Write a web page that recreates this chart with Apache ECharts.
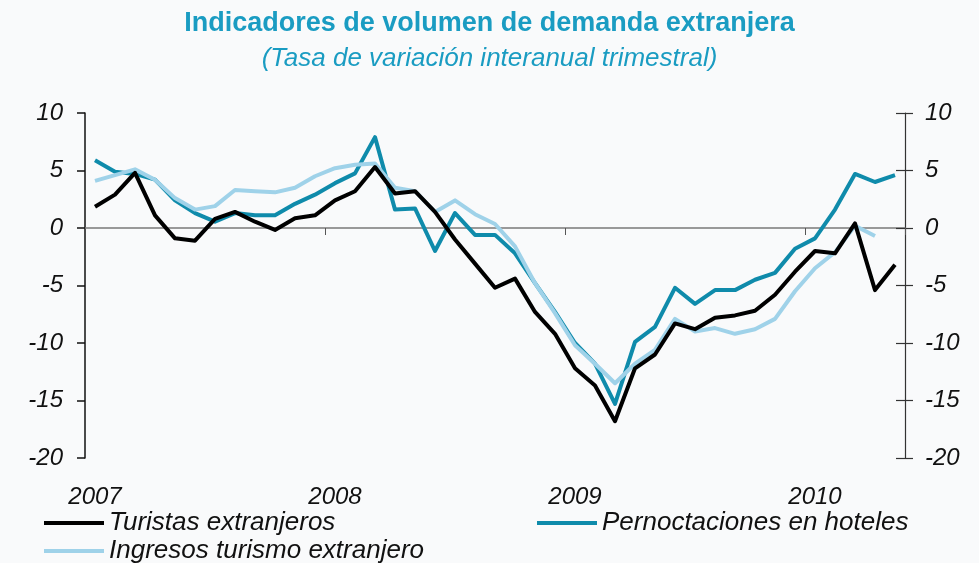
<!DOCTYPE html>
<html>
<head>
<meta charset="utf-8">
<script src="https://cdn.jsdelivr.net/npm/echarts@6/dist/echarts.min.js"></script>
<style>
  html, body { margin: 0; padding: 0; background: #f9fafb; }
  #lineDiv { width: 979px; height: 563px; }
</style>
</head>
<body>
<div id="lineDiv"></div>
<script>
// months Jan 2007 .. May 2010
var years = ['2007', '2008', '2009', '2010'];
var meses = [];
for (var y = 0; y < years.length; y++) {
	for (var m = 1; m <= 12; m++) {
		if (y == 3 && m > 5) break;
		meses.push(years[y] + '-' + (m < 10 ? '0' + m : m));
	}
}

var turistas = [1.85, 2.9, 4.8, 1.1, -0.9, -1.1, 0.8, 1.4, 0.55, -0.17, 0.85, 1.1,
	2.4, 3.2, 5.3, 3.0, 3.2, 1.4, -1.0, -3.1, -5.2, -4.4, -7.3, -9.2,
	-12.2, -13.7, -16.8, -12.2, -11.0, -8.3, -8.8, -7.8, -7.6, -7.2, -5.8, -3.8,
	-2.0, -2.2, 0.4, -5.4, -3.2];
var pernoctaciones = [5.9, 4.9, 4.7, 4.2, 2.4, 1.3, 0.55, 1.3, 1.1, 1.1, 2.1, 2.9,
	3.9, 4.75, 7.9, 1.6, 1.7, -2.0, 1.3, -0.6, -0.6, -2.2, -4.8, -7.3,
	-10.0, -11.8, -15.3, -9.9, -8.6, -5.2, -6.6, -5.4, -5.4, -4.5, -3.9, -1.8,
	-0.9, 1.6, 4.7, 4.0, 4.6];
var ingresos = [4.1, 4.6, 5.1, 4.2, 2.6, 1.6, 1.9, 3.3, 3.2, 3.1, 3.5, 4.5,
	5.2, 5.5, 5.6, 3.5, 3.2, 1.4, 2.4, 1.2, 0.35, -1.6, -4.8, -7.4,
	-10.2, -11.8, -13.5, -11.8, -10.6, -7.9, -9.0, -8.7, -9.2, -8.8, -7.9, -5.5,
	-3.5, -2.1, 0.2, -0.7, null];

var nombres = ['Turistas extranjeros', 'Pernoctaciones en hoteles', 'Ingresos turismo extranjero'];
var fuente = "'Liberation Sans', Arial, sans-serif";

var legendText = { fontSize: 26, fontStyle: 'italic', color: '#111', fontFamily: fuente };

var option = {
	animation: false,
	backgroundColor: '#f9fafb',
	color: ['#000000', '#0f8bab', '#9fd2e9'],
	title: {
		text: 'Indicadores de volumen de demanda extranjera',
		subtext: '(Tasa de variación interanual trimestral)',
		left: 'center',
		top: 5,
		itemGap: 9,
		textStyle: { fontSize: 27, fontWeight: 'bold', color: '#1a9cc2', fontFamily: fuente },
		subtextStyle: { fontSize: 26, fontStyle: 'italic', color: '#1a9cc2', fontFamily: fuente }
	},
	legend: [
		{ data: [{ name: nombres[0], icon: 'rect' }], left: 39, top: 505, itemWidth: 60, itemHeight: 4, textStyle: legendText },
		{ data: [{ name: nombres[1], icon: 'rect' }], left: 532, top: 505, itemWidth: 60, itemHeight: 4, textStyle: legendText },
		{ data: [{ name: nombres[2], icon: 'rect' }], left: 39, top: 533, itemWidth: 60, itemHeight: 4, textStyle: legendText }
	],
	grid: { left: 85, right: 74, top: 113, bottom: 105 },
	xAxis: [{
		type: 'category',
		data: meses,
		boundaryGap: true,
		axisLine: { show: false, onZero: false },
		axisTick: { show: false },
		axisLabel: {
			interval: function (i) { return i % 12 == 0; },
			formatter: function (v) { return v.substr(0, 4); },
			margin: 27,
			fontSize: 24, fontStyle: 'italic', color: '#111', fontFamily: fuente
		}
	}, {
		type: 'category',
		data: meses,
		position: 'bottom',
		boundaryGap: true,
		axisLine: { show: true, onZero: true, lineStyle: { color: '#7a7a7a', width: 1.5 } },
		axisTick: { show: true, length: 7, interval: function (i) { return i > 0 && i % 12 == 0; }, lineStyle: { color: '#555' } },
		axisLabel: { show: false }
	}],
	yAxis: [{
		type: 'value', position: 'left', min: -20, max: 10, interval: 5,
		splitLine: { show: false },
		axisLine: { show: true, onZero: false, lineStyle: { color: '#111', width: 1.5 } },
		axisTick: { show: true, length: 8, lineStyle: { color: '#111', width: 1.5 } },
		axisLabel: { margin: 22, fontSize: 24, fontStyle: 'italic', color: '#111', fontFamily: fuente }
	}, {
		type: 'value', position: 'right', min: -20, max: 10, interval: 5,
		splitLine: { show: false },
		axisLine: { show: true, onZero: false, lineStyle: { color: '#333', width: 1.2 } },
		axisTick: { show: true, length: 8, lineStyle: { color: '#333', width: 1.2 } },
		axisLabel: { margin: 20, fontSize: 24, fontStyle: 'italic', color: '#111', fontFamily: fuente }
	}, {
		type: 'value', position: 'right', min: -20, max: 10, interval: 5,
		splitLine: { show: false },
		axisLine: { show: false, onZero: false },
		axisTick: { show: true, inside: true, length: 9, lineStyle: { color: '#333', width: 1.2 } },
		axisLabel: { show: false }
	}],
	series: [{
		name: nombres[1], type: 'line', data: pernoctaciones,
		symbol: 'none', lineStyle: { width: 4, color: '#0f8bab', join: 'round' }, itemStyle: { color: '#0f8bab' }, z: 2
	}, {
		name: nombres[2], type: 'line', data: ingresos,
		symbol: 'none', lineStyle: { width: 4, color: '#9fd2e9', join: 'round' }, itemStyle: { color: '#9fd2e9' }, z: 3
	}, {
		name: nombres[0], type: 'line', data: turistas,
		symbol: 'none', lineStyle: { width: 4, color: '#000000', join: 'round' }, itemStyle: { color: '#000000' }, z: 4
	}]
};

var myChart = echarts.init(document.getElementById('lineDiv'));
myChart.setOption(option);
</script>
</body>
</html>
